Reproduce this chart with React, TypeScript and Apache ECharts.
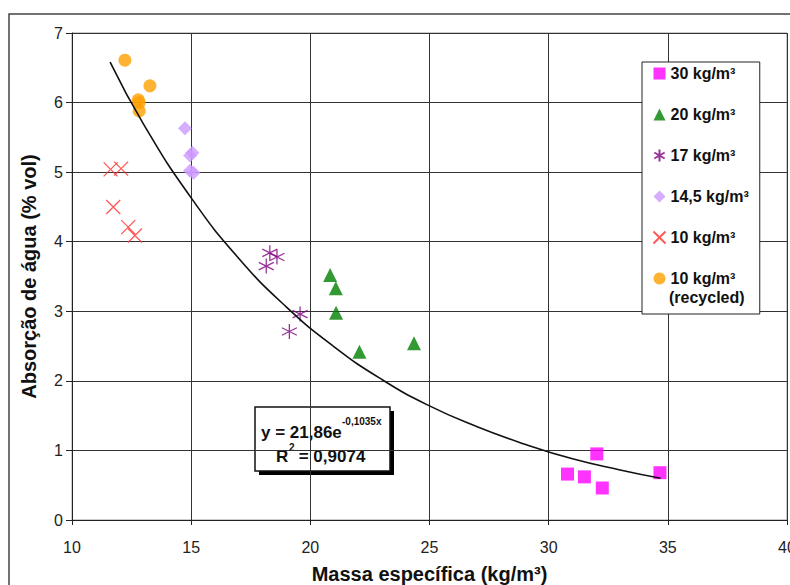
import React, { useEffect, useRef } from "react";
import * as echarts from "echarts";

const d30: number[][] = [[32.02, 0.95], [30.79, 0.66], [31.5, 0.62], [32.25, 0.46], [34.67, 0.68]];
const d20: number[][] = [[20.83, 3.52], [21.07, 3.33], [21.08, 2.98], [22.06, 2.42], [24.35, 2.54]];
const d17: number[][] = [[18.3, 3.84], [18.6, 3.78], [18.15, 3.65], [19.57, 2.96], [19.12, 2.71]];
const d145: number[][] = [[14.74, 5.63], [14.95, 5.24], [15.05, 5.28], [14.95, 5.02], [15.1, 4.99]];
const d10: number[][] = [[11.62, 5.04], [12.06, 5.05], [11.73, 4.5], [12.36, 4.21], [12.64, 4.09]];
const d10r: number[][] = [[12.22, 6.61], [13.27, 6.24], [12.78, 6.04], [12.82, 6.0], [12.82, 5.88]];
const trend: number[][] = [
  [11.6, 6.58], [13, 5.69], [15, 4.63], [17, 3.76], [19, 3.06], [21, 2.49], [23, 2.02],
  [25, 1.64], [27, 1.34], [29, 1.09], [31, 0.88], [33, 0.72], [34.7, 0.6],
];
// last name has a trailing space to keep it distinct from the other "10 kg/m³"
const seriesNames = ["30 kg/m³", "20 kg/m³", "17 kg/m³", "14,5 kg/m³", "10 kg/m³", "10 kg/m³ "];
const recycledNote = "(recycled)";
const xTitle = "Massa específica (kg/m³)";
const yTitle = "Absorção de água (% vol)";

export default function App() {
  const ref = useRef<HTMLDivElement>(null);
  useEffect(() => {
    if (!ref.current) return;
    const chart = echarts.init(ref.current, undefined, { renderer: "svg" });
    const font = "Liberation Sans, Arial, sans-serif";
    const option: any = {
      animation: false,
      backgroundColor: "#fff",
      textStyle: { fontFamily: font },
      grid: {
        left: 72, right: 3, top: 33, bottom: 65, show: true, borderColor: "#999", borderWidth: 1,
        containLabel: false, outerBoundsMode: "none",
      },
      xAxis: {
        type: "value", min: 10, max: 40, interval: 5,
        name: xTitle, nameLocation: "middle", nameGap: 44,
        nameTextStyle: { fontSize: 20, fontWeight: "bold", color: "#111", fontFamily: font },
        axisLine: { show: true, lineStyle: { color: "#222", width: 1 } },
        axisTick: { show: true, length: 5, lineStyle: { color: "#222" } },
        axisLabel: { fontSize: 16, color: "#222", margin: 19, fontFamily: font },
        splitLine: { show: true, lineStyle: { color: "#333", width: 1 } },
      },
      yAxis: {
        type: "value", min: 0, max: 7, interval: 1,
        name: yTitle, nameLocation: "middle", nameGap: 33,
        nameTextStyle: { fontSize: 20, fontWeight: "bold", color: "#111", fontFamily: font },
        axisLine: { show: true, lineStyle: { color: "#222", width: 1 } },
        axisTick: { show: true, length: 6, lineStyle: { color: "#222" } },
        axisLabel: { fontSize: 16, color: "#222", margin: 9, fontFamily: font },
        splitLine: { show: true, lineStyle: { color: "#333", width: 1 } },
      },
      legend: {
        orient: "vertical", left: 642, top: 62,
        data: seriesNames,
        backgroundColor: "#fff", borderColor: "#222", borderWidth: 1,
        padding: [3, 11, 27, 9], itemGap: 24, itemWidth: 12, itemHeight: 12,
        textStyle: { fontSize: 16, fontWeight: "bold", color: "#111", fontFamily: font, lineHeight: 17 },
      },
      graphic: [
        { type: "rect", silent: true, z: -10, shape: { x: 9, y: 14, width: 900, height: 700 }, style: { fill: "none", stroke: "#444", lineWidth: 1.5 } },
        { type: "text", x: 669, y: 297, z: 200, style: { text: recycledNote, font: `bold 16px ${font}`, fill: "#111", verticalAlign: "middle", align: "left" } },
        {
          type: "group", z: 100,
          children: [
            { type: "rect", shape: { x: 259, y: 411, width: 135, height: 64 }, style: { fill: "#000" } },
            { type: "rect", shape: { x: 255, y: 407, width: 135, height: 64 }, style: { fill: "#fff", stroke: "#111", lineWidth: 1.5 } },
            { type: "text", x: 261, y: 432, style: { text: "y = 21,86e", font: `bold 17px ${font}`, fill: "#111", verticalAlign: "middle", align: "left" } },
            { type: "text", x: 342, y: 421, style: { text: "-0,1035x", font: `bold 10px ${font}`, fill: "#111", verticalAlign: "middle", align: "left" } },
            { type: "text", x: 276, y: 456, style: { text: "R", font: `bold 17px ${font}`, fill: "#111", verticalAlign: "middle", align: "left" } },
            { type: "text", x: 289, y: 447, style: { text: "2", font: `bold 10px ${font}`, fill: "#111", verticalAlign: "middle", align: "left" } },
            { type: "text", x: 294, y: 456, style: { text: " = 0,9074", font: `bold 17px ${font}`, fill: "#111", verticalAlign: "middle", align: "left" } },
          ],
        },
      ],
      series: [
        { name: seriesNames[0], type: "scatter", data: d30, symbol: "rect", symbolSize: 13, itemStyle: { color: "#ff00ff" }, z: 3 },
        { name: seriesNames[1], type: "scatter", data: d20, symbol: "triangle", symbolSize: 14, itemStyle: { color: "#008000" }, z: 3 },
        {
          name: seriesNames[2], type: "scatter", data: d17, symbol: "path://M5,0L5,10M0.7,2.5L9.3,7.5M0.7,7.5L9.3,2.5", symbolSize: 15,
          itemStyle: { color: "none", borderColor: "#800080", borderWidth: 1.3 }, z: 3,
        },
        { name: seriesNames[3], type: "scatter", data: d145, symbol: "diamond", symbolSize: 14, itemStyle: { color: "#cc99ff" }, z: 3 },
        {
          name: seriesNames[4], type: "scatter", data: d10, symbol: "path://M0,0L10,10M10,0L0,10", symbolSize: 14,
          itemStyle: { color: "none", borderColor: "#ff3030", borderWidth: 1.3 }, z: 3,
        },
        { name: seriesNames[5], type: "scatter", data: d10r, symbol: "circle", symbolSize: 13, itemStyle: { color: "#ffa000" }, z: 3 },
        {
          name: "trend", type: "line", data: trend, smooth: true, showSymbol: false, symbol: "none",
          lineStyle: { color: "#111", width: 1.6 }, z: 4, silent: true,
        },
      ],
    };
    chart.setOption(option);
    return () => chart.dispose();
  }, []);
  return <div ref={ref} style={{ position: "absolute", left: 0, top: 0, width: 790, height: 585 }} />;
}
